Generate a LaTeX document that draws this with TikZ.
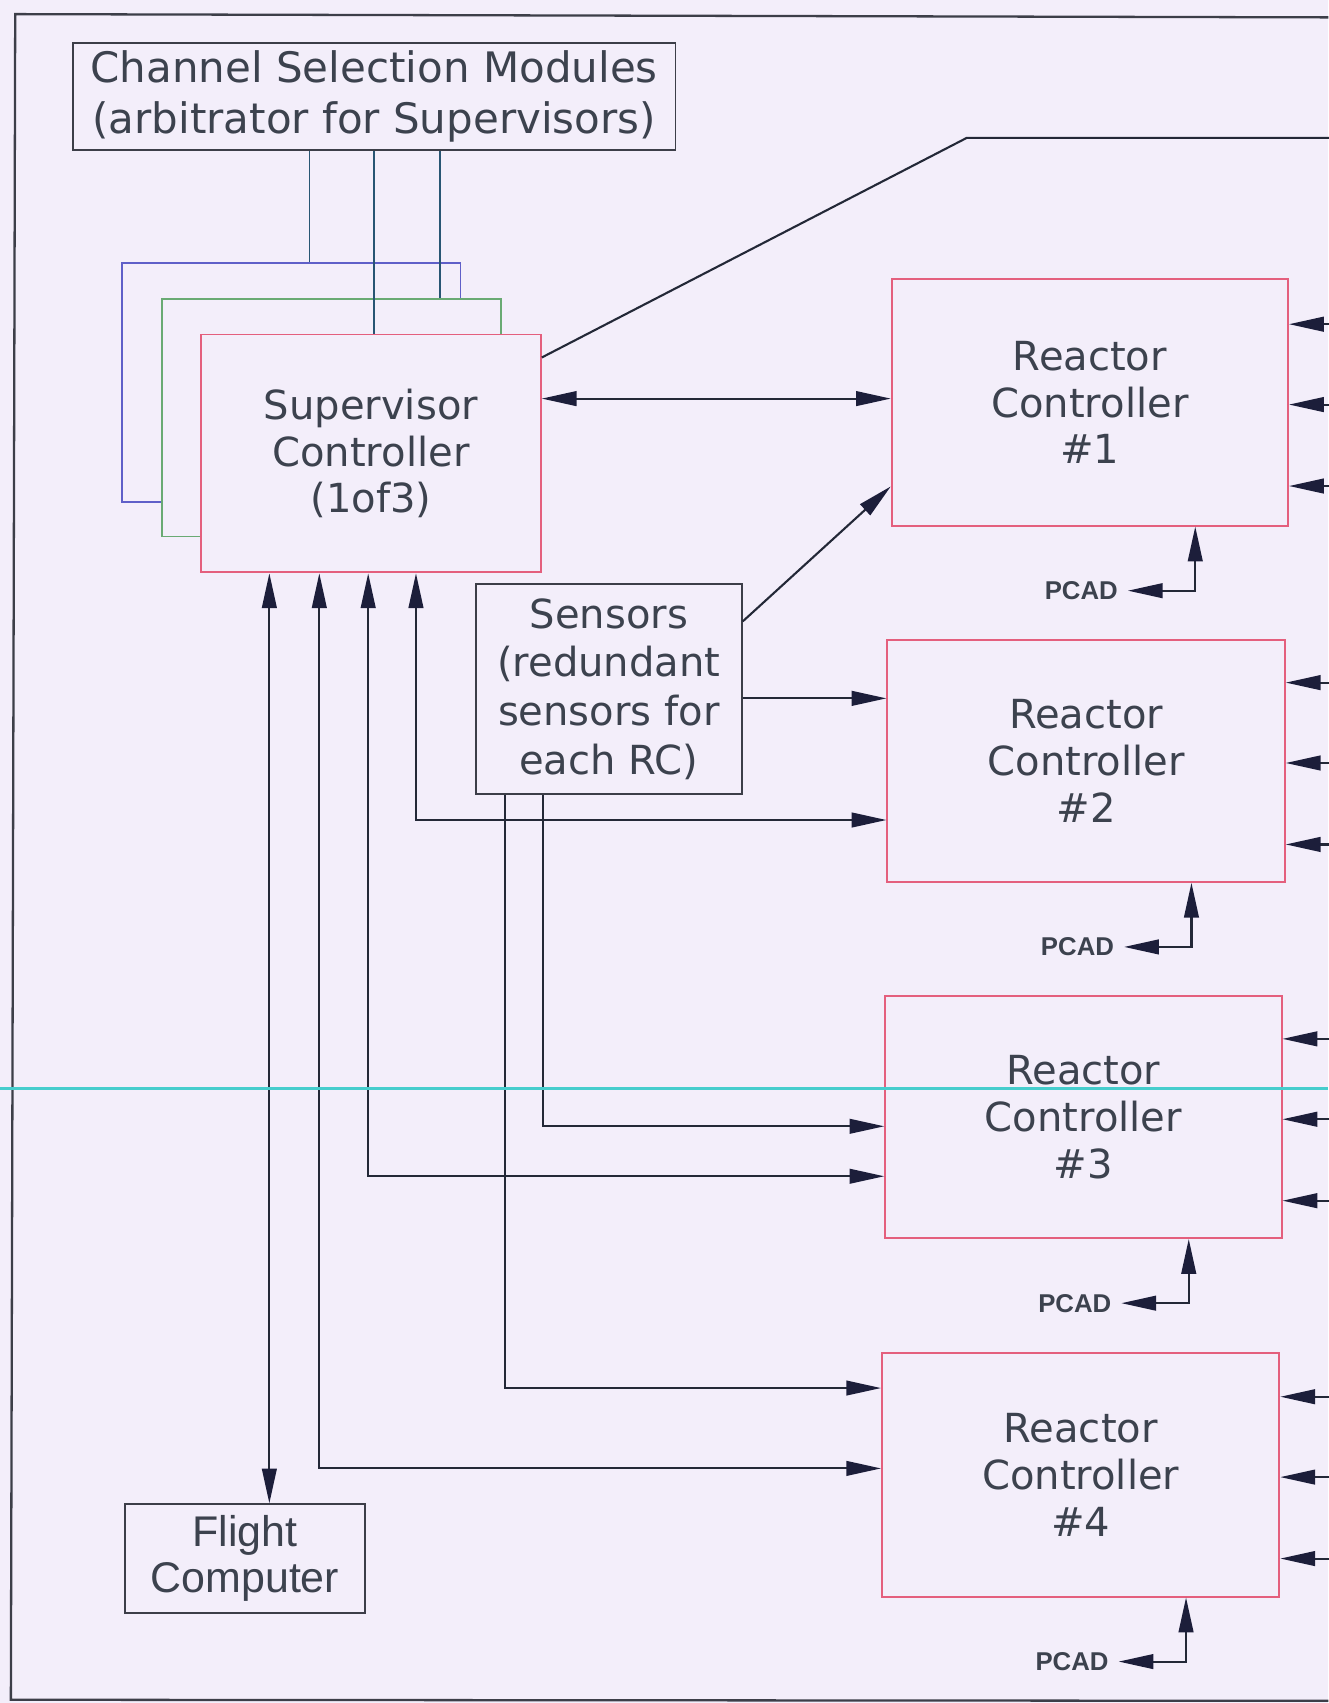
\documentclass[tikz,border=0pt]{standalone}
\usepackage{fontspec}
\usetikzlibrary{arrows.meta,calc}
\newfontfamily\arialf{Liberation Sans}
\newfontfamily\advf{DejaVu Sans}
\definecolor{bgc}{RGB}{243,238,250}
\definecolor{linec}{RGB}{35,40,55}
\definecolor{headc}{RGB}{28,30,58}
\definecolor{textc}{RGB}{60,66,78}
\definecolor{boxc}{RGB}{60,62,72}
\definecolor{pinkc}{RGB}{228,95,125}
\definecolor{bluec}{RGB}{95,95,200}
\definecolor{greenc}{RGB}{105,170,115}
\definecolor{cyanc}{RGB}{70,205,205}
\definecolor{tealc}{RGB}{40,85,115}
\begin{document}
\begin{tikzpicture}[x=0.02cm,y=-0.02cm,
  box/.style={draw=boxc, line width=1pt, fill=bgc, inner sep=0pt, align=center, text=textc,
    font=\advf\fontsize{21}{24.5}\selectfont},
  pbox/.style={box, draw=pinkc},
  conn/.style={draw=linec, line width=1.1pt},
  tip/.tip={Triangle[length=0.64cm,width=0.27cm,color=headc]},
  arr/.style={conn, -tip},
  arrb/.style={conn, tip-tip},
  pcad/.style={font=\arialf\bfseries\fontsize{13.5}{14}\selectfont, text=textc, inner xsep=0.18cm, inner ysep=0pt}
]
\useasboundingbox (0,0) rectangle (1223,1568);
\fill[bgc] (0,0) rectangle (1223,1568);
% frame
\draw[draw=boxc, line width=1.2pt] (1223,16) -- (14,13) -- (10,1565) -- (1223,1566);

% channel selection modules
\node[box, minimum width=11.1cm, minimum height=1.96cm, font=\advf\fontsize{22}{26.5}\selectfont] (csm) at (344.5,89)
  {Channel Selection Modules\\(arbitrator for Supervisors)};

% stacked supervisors
\node[box, draw=bluec, minimum width=6.24cm, minimum height=4.4cm] (sv3) at (268,352) {};
\node[box, draw=greenc, minimum width=6.24cm, minimum height=4.38cm] (sv2) at (305,384.5) {};
\node[pbox, minimum width=6.26cm, minimum height=4.38cm] (sup) at (341.5,417.5)
  {Supervisor\\Controller\\(1of3)};

\coordinate (xa) at (285,0);
\coordinate (xb) at (344,0);
\coordinate (xc) at (405,0);
\draw[draw=tealc, line width=1pt] (csm.south -| xa) -- (xa |- sv3.north);
\draw[draw=tealc, line width=1pt] (csm.south -| xb) -- (xb |- sup.north);
\draw[draw=tealc, line width=1pt] (csm.south -| xc) -- (xc |- sv2.north);

% reactor controllers
\node[pbox, minimum width=7.3cm, minimum height=4.54cm] (rc1) at (1003.5,370.5) {Reactor\\Controller\\\#1};
\node[pbox, minimum width=7.32cm, minimum height=4.46cm] (rc2) at (1000,700.5) {Reactor\\Controller\\\#2};
\node[pbox, minimum width=7.3cm, minimum height=4.46cm] (rc3) at (997.5,1028.5) {Reactor\\Controller\\\#3};
\node[pbox, minimum width=7.32cm, minimum height=4.48cm] (rc4) at (995,1358) {Reactor\\Controller\\\#4};

% sensors
\node[box, minimum width=4.9cm, minimum height=3.86cm, font=\advf\fontsize{21}{25.6}\selectfont] (sen) at (560.5,634.5)
  {Sensors\\(redundant\\sensors for\\each RC)};

% flight computer
\node[box, minimum width=4.42cm, minimum height=2.0cm, font=\arialf\fontsize{22.5}{23.8}\selectfont] (fc) at (225.5,1435)
  {Flight\\Computer};

% supervisor to top right
\coordinate (d1) at (890,127);
\coordinate (d2) at (1235,127);
\draw[conn] ($(sup.north east)+(0,22)$) -- (d1) -- (d2);

% supervisor <-> rc1
\coordinate (y1) at (0,367);
\draw[arrb] (sup.east |- y1) -- (rc1.west |- y1);

% sensors to RCs
\draw[arr] ($(sen.north east)+(0,35)$) -- ($(rc1.south west)+(0,-37)$);
\coordinate (y2) at (0,643);
\draw[arr] (sen.east |- y2) -- (rc2.west |- y2);
\coordinate (s3) at (500,1037);
\draw[arr] (sen.south -| s3) -- (s3) -- (rc3.west |- s3);
\coordinate (s4) at (465,1278);
\draw[arr] (sen.south -| s4) -- (s4) -- (rc4.west |- s4);

% supervisor feedback lines
\coordinate (b1) at (383,755);
\draw[arrb] (sup.south -| b1) -- (b1) -- (rc2.west |- b1);
\coordinate (b2) at (339,1083);
\draw[arrb] (sup.south -| b2) -- (b2) -- (rc3.west |- b2);
\coordinate (b3) at (294,1352);
\draw[arrb] (sup.south -| b3) -- (b3) -- (rc4.west |- b3);
\coordinate (b4) at (248,0);
\draw[arrb] (sup.south -| b4) -- (b4 |- fc.north);

% right side inputs
\coordinate (R) at (1235,0);
\foreach \r in {rc1,rc2,rc3,rc4}{
  \foreach \dy in {-72,2,77}{
    \coordinate (p) at ($(\r.east)+(0,\dy)$);
    \draw[arr] (p -| R) -- (p);
  }
}

% PCAD
\foreach \r in {rc1,rc2,rc3,rc4}{
  \coordinate (pc) at ($(\r.south)+(97,59)$);
  \node[pcad, anchor=east] (\r-pcad) at ($(pc)+(-62,0)$) {PCAD};
  \draw[arrb] (\r-pcad.east) -- (pc) -- (pc |- \r.south);
}

% cyan line on top
\draw[draw=cyanc, line width=1.4pt] (0,1002) -- (1223,1002);
\end{tikzpicture}
\end{document}
